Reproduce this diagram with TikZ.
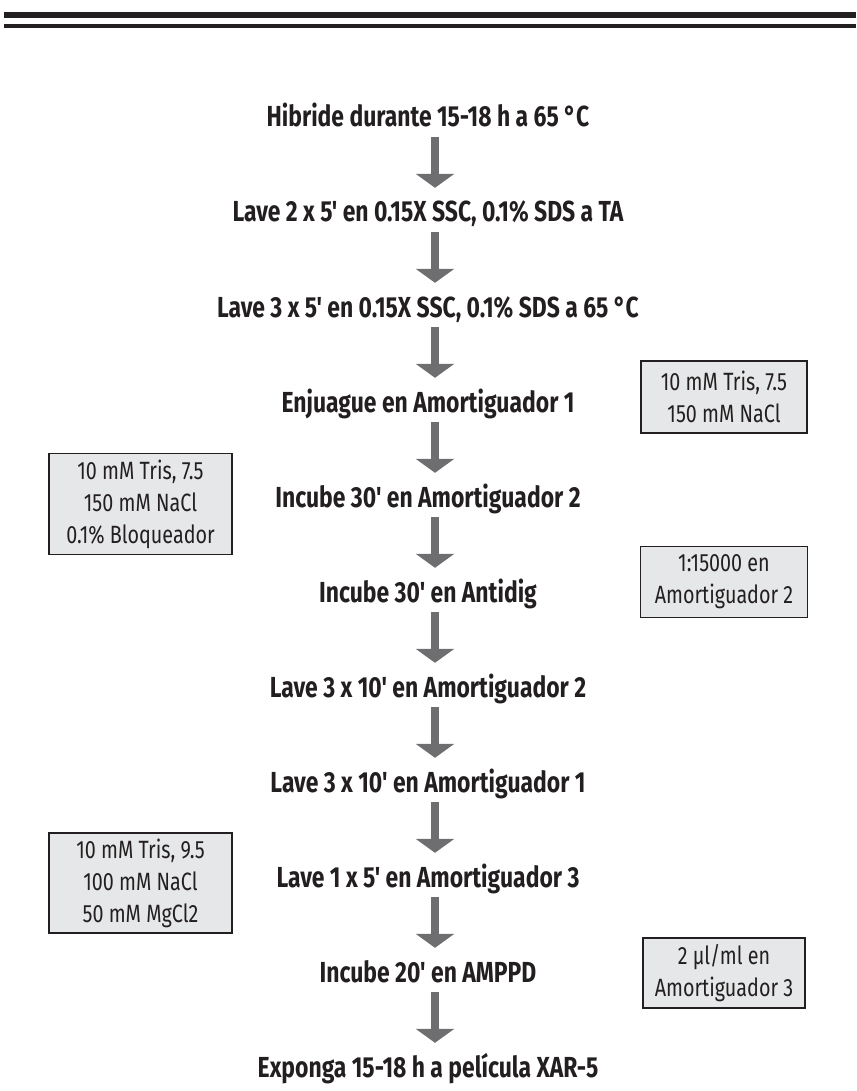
\documentclass[tikz,border=0pt]{standalone}
\usepackage{fontspec}
\setmainfont[FakeStretch=0.79, Ligatures=TeXOff]{Fira Sans}
\usepackage{xcolor}
\usepackage{tikz}
\usetikzlibrary{arrows.meta, positioning}

\definecolor{arrowgray}{RGB}{110,110,112}
\definecolor{boxgray}{RGB}{230,231,232}
\definecolor{inkdark}{RGB}{35,31,32}

\begin{document}
\begin{tikzpicture}[
    x=1pt, y=1pt,
    node distance=95pt,
    stepbox/.style={inner sep=0pt, text height=20pt, text depth=0pt, font=\fontsize{29}{34}\selectfont\bfseries, text=inkdark},
    notebox/.style={rectangle, draw=inkdark, line width=1.8pt, fill=boxgray, align=center, inner sep=0pt, font=\fontsize{25}{32}\selectfont, text=inkdark},
    flow/.style={line width=8.5pt, draw=arrowgray, -{Triangle[width=38pt,length=14pt]}, shorten <=10pt, shorten >=14pt}
]
    \useasboundingbox (0,0) rectangle (856,-1091);
    % header rules
    \draw [inkdark, line width=6pt] (4,-15) -- (856,-15);
    \draw [inkdark, line width=4pt] (4,-26) -- (856,-26);

    % steps
    \node (hib) [stepbox] at (428,-117) {Hibride durante 15-18 h a 65 °C};
    \node (lavea) [stepbox, below of=hib] {Lave 2 x 5' en 0.15X SSC, 0.1\% SDS a TA};
    \node (laveb) [stepbox, below of=lavea] {Lave 3 x 5' en 0.15X SSC, 0.1\% SDS a 65 °C};
    \node (enj) [stepbox, below of=laveb] {Enjuague en Amortiguador 1};
    \node (inca) [stepbox, below of=enj] {Incube 30' en Amortiguador 2};
    \node (incb) [stepbox, below of=inca] {Incube 30' en Antidig};
    \node (lavec) [stepbox, below of=incb] {Lave 3 x 10' en Amortiguador 2};
    \node (laved) [stepbox, below of=lavec] {Lave 3 x 10' en Amortiguador 1};
    \node (lavee) [stepbox, below of=laved] {Lave 1 x 5' en Amortiguador 3};
    \node (incc) [stepbox, below of=lavee] {Incube 20' en AMPPD};
    \node (expo) [stepbox, below of=incc] {Exponga 15-18 h a película XAR-5};

    % buffers
    \node (buf1) [notebox, minimum width=166pt, minimum height=72pt, right of=enj, xshift=201pt, yshift=5pt] {10 mM Tris, 7.5\\150 mM NaCl};
    \node (buf2) [notebox, minimum width=183pt, minimum height=101pt, left of=inca, xshift=-192.5pt, yshift=-7pt] {10 mM Tris, 7.5\\150 mM NaCl\\0.1\% Bloqueador};
    \node (anti) [notebox, minimum width=167pt, minimum height=71pt, right of=incb, xshift=201pt, yshift=10pt] {1:15000 en\\Amortiguador 2};
    \node (buf3) [notebox, minimum width=183pt, minimum height=100pt, left of=lavee, xshift=-192.5pt, yshift=-6pt] {10 mM Tris, 9.5\\100 mM NaCl\\50 mM MgCl2};
    \node (amp) [notebox, minimum width=162pt, minimum height=70pt, right of=incc, xshift=201pt, yshift=-1pt] {2 µl/ml en\\Amortiguador 3};

    \draw [flow] ([xshift=7pt]hib.south) -- ([xshift=7pt]lavea.north);
    \draw [flow] ([xshift=7pt]lavea.south) -- ([xshift=7pt]laveb.north);
    \draw [flow] ([xshift=7pt]laveb.south) -- ([xshift=7pt]enj.north);
    \draw [flow] ([xshift=7pt]enj.south) -- ([xshift=7pt]inca.north);
    \draw [flow] ([xshift=7pt]inca.south) -- ([xshift=7pt]incb.north);
    \draw [flow] ([xshift=7pt]incb.south) -- ([xshift=7pt]lavec.north);
    \draw [flow] ([xshift=7pt]lavec.south) -- ([xshift=7pt]laved.north);
    \draw [flow] ([xshift=7pt]laved.south) -- ([xshift=7pt]lavee.north);
    \draw [flow] ([xshift=7pt]lavee.south) -- ([xshift=7pt]incc.north);
    \draw [flow] ([xshift=7pt]incc.south) -- ([xshift=7pt]expo.north);
\end{tikzpicture}
\end{document}
